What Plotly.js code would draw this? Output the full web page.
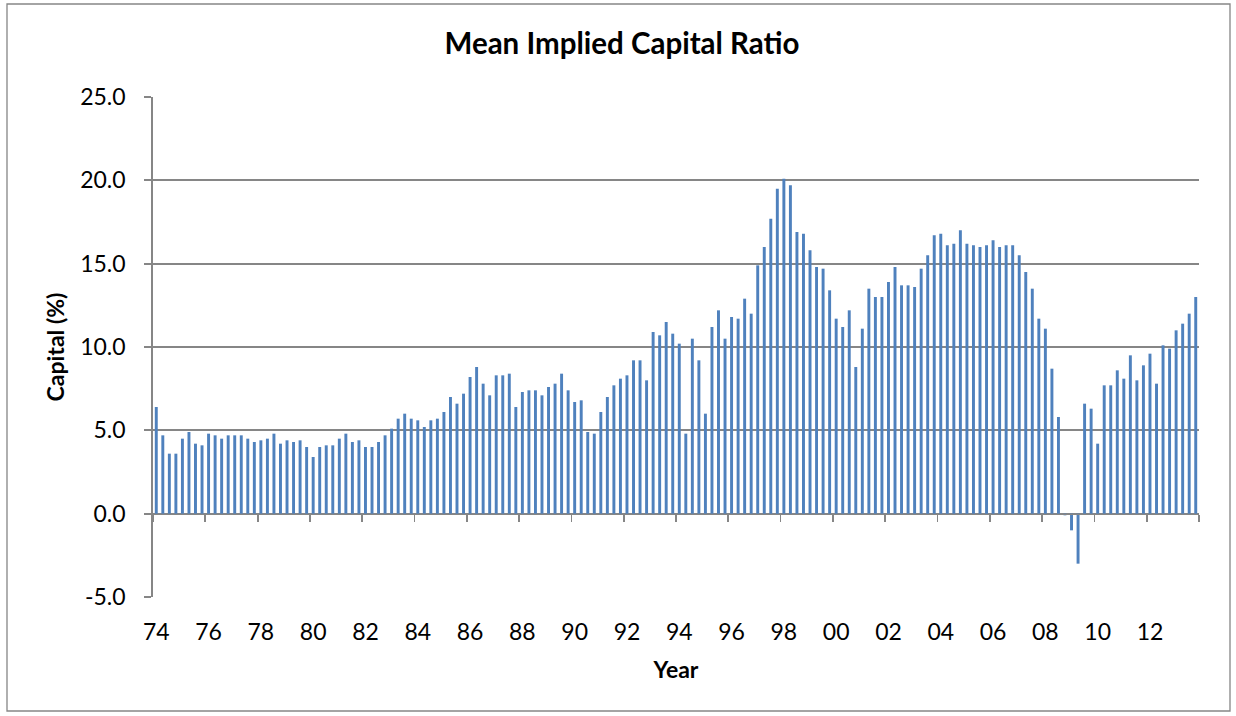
<!DOCTYPE html>
<html>
<head>
<meta charset="utf-8">
<script src="https://cdn.plot.ly/plotly-3.0.1.min.js"></script>
<style>
html,body{margin:0;padding:0;background:#fff;}
#chart{width:1236px;height:716px;}
</style>
</head>
<body>
<div id="chart"></div>
<script>
// ---- data ----
const years = [1974,1975,1976,1977,1978,1979,1980,1981,1982,1983,1984,1985,1986,1987,1988,1989,
  1990,1991,1992,1993,1994,1995,1996,1997,1998,1999,2000,2001,2002,2003,2004,2005,2006,2007,2008,2009,
  2010,2011,2012,2013];
const quarters = ['Q1','Q2','Q3','Q4'];
const capital = [
  6.4, 4.7, 3.6, 3.6,   // 1974
  4.5, 4.9, 4.2, 4.1,   // 1975
  4.8, 4.7, 4.5, 4.7,   // 1976
  4.7, 4.7, 4.5, 4.3,   // 1977
  4.4, 4.5, 4.8, 4.2,   // 1978
  4.4, 4.3, 4.4, 4.0,   // 1979
  3.4, 4.0, 4.1, 4.1,   // 1980
  4.5, 4.8, 4.3, 4.4,   // 1981
  4.0, 4.0, 4.3, 4.7,   // 1982
  5.1, 5.7, 6.0, 5.7,   // 1983
  5.6, 5.2, 5.6, 5.7,   // 1984
  6.1, 7.0, 6.6, 7.2,   // 1985
  8.2, 8.8, 7.8, 7.1,   // 1986
  8.3, 8.3, 8.4, 6.4,   // 1987
  7.3, 7.4, 7.4, 7.1,   // 1988
  7.6, 7.8, 8.4, 7.4,   // 1989
  6.7, 6.8, 4.9, 4.8,   // 1990
  6.1, 7.0, 7.7, 8.1,   // 1991
  8.3, 9.2, 9.2, 8.0,   // 1992
  10.9, 10.7, 11.5, 10.8, // 1993
  10.2, 4.8, 10.5, 9.2, // 1994
  6.0, 11.2, 12.2, 10.5, // 1995
  11.8, 11.7, 12.9, 12.0, // 1996
  14.9, 16.0, 17.7, 19.5, // 1997
  20.1, 19.7, 16.9, 16.8, // 1998
  15.8, 14.8, 14.7, 13.4, // 1999
  11.7, 11.2, 12.2, 8.8, // 2000
  11.1, 13.5, 13.0, 13.0, // 2001
  13.9, 14.8, 13.7, 13.7, // 2002
  13.6, 14.7, 15.5, 16.7, // 2003
  16.8, 16.1, 16.2, 17.0, // 2004
  16.2, 16.1, 16.0, 16.1, // 2005
  16.4, 16.0, 16.1, 16.1, // 2006
  15.5, 14.5, 13.5, 11.7, // 2007
  11.1, 8.7, 5.8, -0.1,  // 2008
  -1.0, -3.0, 6.6, 6.3,  // 2009
  4.2, 7.7, 7.7, 8.6,    // 2010
  8.1, 9.5, 8.0, 8.9,    // 2011
  9.6, 7.8, 10.1, 9.9,   // 2012
  11.0, 11.4, 12.0, 13.0 // 2013
];
const tickYears = [1974,1976,1978,1980,1982,1984,1986,1988,1990,1992,1994,1996,1998,2000,2002,2004,2006,2008,2010,2012];
const tickText = ['74','76','78','80','82','84','86','88','90','92','94','96','98','00','02','04','06','08','10','12'];
const yTicks = [-5,0,5,10,15,20,25];
const yTickText = ['-5.0','0.0','5.0','10.0','15.0','20.0','25.0'];

// ---- build ----
const categories = [];
years.forEach(y => quarters.forEach(q => categories.push(y + q)));
const n = categories.length;
const labelCats = tickYears.map(y => y + 'Q1');
const boundaryVals = tickYears.map(y => categories.indexOf(y + 'Q1') - 0.5).concat([n - 0.5]);

const W = 1236, H = 716;
const M = {l:153, r:37, t:97, b:119};
const pw = W - M.l - M.r, ph = H - M.t - M.b;
const grey = '#868686';
const LW = 1.8;
const FONT = 'Lato, "Open Sans", sans-serif';

const traces = [
  {
    type: 'bar',
    x: categories,
    y: capital,
    marker: {color: '#4F81BD', line: {width: 0}},
    hoverinfo: 'x+y',
    showlegend: false
  },
  {
    type: 'scatter', mode: 'markers', x: [], y: [], xaxis: 'x2', yaxis: 'y',
    showlegend: false, hoverinfo: 'skip'
  }
];

const layout = {
  width: W, height: H,
  margin: M,
  paper_bgcolor: '#fff', plot_bgcolor: '#fff',
  font: {family: FONT, color: '#000'},
  bargap: 0.55,
  showlegend: false,
  title: {
    text: '<b>Mean Implied Capital Ratio</b>',
    font: {family: FONT, size: 29.5, color: '#000'},
    x: 622 / W, xref: 'container', xanchor: 'center',
    y: 1 - 44 / H, yref: 'container', yanchor: 'middle'
  },
  xaxis: {
    type: 'category',
    range: [-0.5, n - 0.5],
    tickvals: labelCats,
    ticktext: tickText,
    ticks: '',
    showline: false, showgrid: false, zeroline: false,
    tickfont: {family: FONT, size: 23, color: '#000'},
    ticklabelstandoff: 19,
    title: {text: '<b>Year</b>', font: {family: FONT, size: 23, color: '#000'}, standoff: 17}
  },
  xaxis2: {
    overlaying: 'x',
    anchor: 'free',
    position: (0 - yTicks[0]) / (yTicks[yTicks.length - 1] - yTicks[0]),
    range: [-0.5, n - 0.5],
    tickmode: 'array',
    tickvals: boundaryVals,
    ticks: 'outside', ticklen: 7, tickwidth: LW, tickcolor: grey,
    showticklabels: false,
    showline: true, linecolor: grey, linewidth: LW,
    showgrid: false, zeroline: false
  },
  yaxis: {
    range: [yTicks[0], yTicks[yTicks.length - 1]],
    tickmode: 'array',
    tickvals: yTicks,
    ticktext: yTickText,
    ticks: 'outside', ticklen: 7, tickwidth: LW, tickcolor: grey,
    showgrid: true, gridcolor: grey, gridwidth: LW,
    zeroline: false,
    showline: true, linecolor: grey, linewidth: LW,
    tickfont: {family: FONT, size: 23, color: '#000'},
    ticklabelstandoff: 14,
    title: {text: '<b>Capital (%)</b>', font: {family: FONT, size: 23, color: '#000'}, standoff: 9}
  },
  shapes: [{
    type: 'rect', xref: 'paper', yref: 'paper',
    x0: (7 - M.l) / pw, x1: (1230 - M.l) / pw,
    y0: (H - M.b - 711) / ph, y1: (H - M.b - 4) / ph,
    line: {color: grey, width: 1.3}, fillcolor: 'rgba(0,0,0,0)', layer: 'below'
  }]
};

Plotly.newPlot('chart', traces, layout, {displayModeBar: false, staticPlot: true});
</script>
</body>
</html>
